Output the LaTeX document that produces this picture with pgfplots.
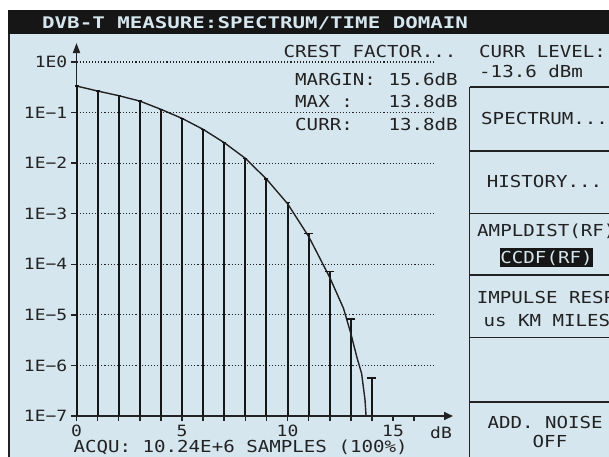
\documentclass[border=0pt]{standalone}
\usepackage{pgfplots}
\pgfplotsset{compat=1.18}
\usetikzlibrary{arrows.meta}
\usepackage{fontspec}
\newfontfamily\lcdfont[FakeStretch=1.16]{DejaVu Sans Mono}
\newfontfamily\lcdtitle[FakeStretch=1.30]{DejaVu Sans Mono Bold}
\newcommand\lcd{\lcdfont\fontsize{16.5pt}{18pt}\selectfont}
\newcommand\lcds{\lcdfont\fontsize{15.5pt}{16pt}\selectfont}
\newcommand\ttl{\lcdtitle\fontsize{16pt}{18pt}\selectfont}
\definecolor{panel}{RGB}{214,230,239}
\definecolor{ink}{RGB}{34,34,34}
\definecolor{barc}{RGB}{22,22,22}
\begin{document}
\begin{tikzpicture}
\useasboundingbox (0,0) rectangle (609pt,456pt);
\clip (0,0) rectangle (609pt,456pt);
\fill[white] (0,0) rectangle (609pt,456pt);
\begin{scope}[yshift=456pt, x=1pt, y=-1pt]
  \fill[panel] (8,34) rectangle (612,460);
  \fill[barc] (8,10) rectangle (612,34);
  \draw[ink, line width=1.5pt] (8.75,34) -- (8.75,460);
  \draw[ink, line width=1.6pt] (469.5,87.3) -- (469.5,460);
  \foreach \yy in {87.3,150.7,213.3,275,337.3,401.7}
    \draw[ink, line width=1.6pt] (469.5,\yy) -- (612,\yy);
\end{scope}

\begin{axis}[
  at={(76.5pt,40pt)}, anchor=south west, scale only axis,
  width=376.5pt, height=373pt,
  xmin=0, xmax=17.84, ymode=log, ymin=1e-7, ymax=2.376,
  log origin y=infty,
  axis lines=left,
  axis line style={ink, line width=1.8pt},
  x axis line style={-{Triangle[length=9pt,width=8pt]}},
  y axis line style={-{Triangle[length=10pt,width=7pt]}},
  xtick={0,1,...,16},
  xticklabels={0,,,,,5,,,,,10,,,,,15,},
  ytick={1e-7,1e-6,1e-5,1e-4,1e-3,1e-2,1e-1,1},
  yticklabels={1E−7,1E−6,1E−5,1E−4,1E−3,1E−2,1E−1,1E0},
  yminorticks=false, xminorticks=false,
  tick align=outside, major tick length=5pt,
  tick style={ink, line width=1.5pt},
  ticklabel style={font=\lcds, text=ink},
  yticklabel style={anchor=east, inner sep=0pt, xshift=-4pt},
  xticklabel style={anchor=north, inner sep=0pt, yshift=-4pt},
  clip=false,
]
\pgfplotsinvokeforeach{-6,-5,...,0}{
  \draw[ink, line width=1.1pt, dash pattern=on 1.1pt off 2pt] (axis cs:0,1e#1) -- (axis cs:16.94,1e#1);
}
\addplot[ycomb, barc, line width=2pt, mark=-, mark size=2pt, mark options={line width=1.5pt}]
  coordinates {(0,0.335)(1,0.267)(2,0.216)(3,0.169)(4,0.116)(5,0.0769)(6,0.0466)(7,0.0254)(8,0.01245)(9,0.00485)(10,0.00166)};
\addplot[ycomb, barc, line width=2pt, mark=-, mark size=4.5pt, mark options={line width=1.5pt}]
  coordinates {(11,4.09e-4)(12,7.14e-5)(13,8.3e-6)(14,5.6e-7)};
\addplot[ink, line width=1.4pt] coordinates {
  (0,0.335)(1,0.267)(2,0.216)(3,0.169)(4,0.116)(5,0.0769)(6,0.0466)(7,0.0254)(8,0.01245)(9,0.00485)
  (10,0.00158)(11,3.55e-4)(12,5.5e-5)(12.65,1.35e-5)(13,4.27e-6)(13.28,1.48e-6)(13.51,6.9e-7)(13.67,2.1e-7)(13.72,1e-7)};
\end{axis}

\begin{scope}[yshift=456pt, x=1pt, y=-1pt]
  \tikzset{every node/.style={inner sep=0pt, text=ink, font=\lcd}}
  \node[anchor=base west, text=panel, font=\ttl] at (42,28.3) {DVB-T MEASURE:SPECTRUM/TIME DOMAIN};
  \node[anchor=base west] at (283.3,57.3) {CREST FACTOR...};
  \node[anchor=base west] at (295,86) {MARGIN:};
  \node[anchor=base west] at (388.3,86) {15.6dB};
  \node[anchor=base west] at (295,107.3) {MAX :};
  \node[anchor=base west] at (388.3,107.3) {13.8dB};
  \node[anchor=base west] at (295,130) {CURR:};
  \node[anchor=base west] at (388.3,130) {13.8dB};
  \node[anchor=base west] at (73.3,452.6) {ACQU: 10.24E+6 SAMPLES (100\%)};
  \node[anchor=base, font=\lcds] at (441,438.5) {dB};
  \node[anchor=base west] at (479,57.3) {CURR LEVEL:};
  \node[anchor=base west] at (479,77.3) {-13.6 dBm};
  \node[anchor=base west] at (481,125) {SPECTRUM...};
  \node[anchor=base west] at (486.7,187.3) {HISTORY...};
  \node[anchor=base west] at (477,236.7) {AMPLDIST(RF)};
  \fill[barc] (500,248.3) rectangle (593,267);
  \node[anchor=base, text=panel] at (546.5,263.3) {CCDF(RF)};
  \node[anchor=base west] at (476.7,303.3) {IMPULSE RESP};
  \node[anchor=base west] at (483.3,326.7) {us KM MILES};
  \node[anchor=base west] at (487.3,428.7) {ADD. NOISE};
  \node[anchor=base] at (550,447.7) {OFF};
\end{scope}
\end{tikzpicture}
\end{document}
